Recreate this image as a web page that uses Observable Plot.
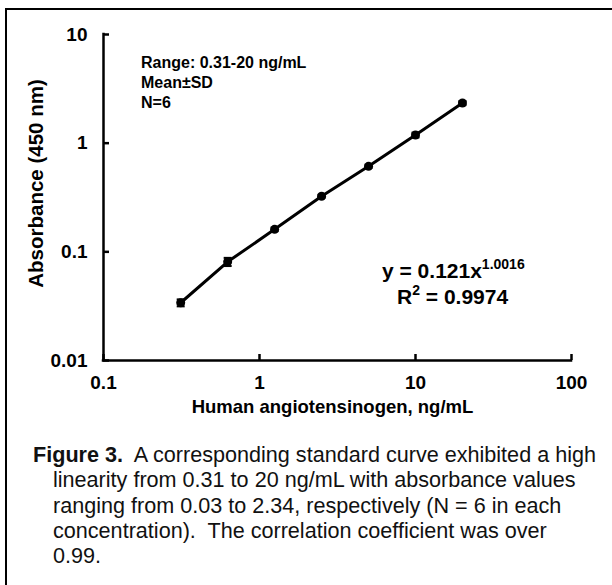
<!DOCTYPE html>
<html>
<head>
<meta charset="utf-8">
<script src="https://cdn.jsdelivr.net/npm/d3@7"></script>
<script src="https://cdn.jsdelivr.net/npm/@observablehq/plot@0.6"></script>
<style>
  html, body { margin: 0; padding: 0; background: #fff; }
  body { width: 612px; height: 585px; position: relative; overflow: hidden; font-family: Arial, "Liberation Sans", Helvetica, sans-serif; }
  #frame { position: absolute; left: 5px; top: 8px; width: 640px; height: 640px; border-left: 2px solid #000; border-top: 2px solid #000; box-sizing: border-box; }
  #chart { position: absolute; left: 0; top: 0; }
  .note { position: absolute; font-weight: bold; color: #000; white-space: nowrap; }
  .note sup { line-height: 0; vertical-align: 9px; }
  #caption { position: absolute; left: 33px; top: 442px; width: 578px; font-size: 21.6px; line-height: 25.3px; color: #111; }
  #caption .line { white-space: nowrap; }
  #caption .indent { padding-left: 20px; }
</style>
</head>
<body>
<div id="frame"></div>
<div id="chart"></div>
<div class="note" style="left:141px; top:53px; font-size:16px; line-height:20px;">Range: 0.31-20 ng/mL<br>Mean±SD<br>N=6</div>
<div class="note" style="left:382px; top:258px; font-size:21px; line-height:26px;">y = 0.121x<sup style="font-size:14px;">1.0016</sup></div>
<div class="note" style="left:397px; top:284px; font-size:21px; line-height:26px;">R<sup style="font-size:14px;">2</sup> = 0.9974</div>
<div id="caption">
  <div class="line"><b>Figure 3.</b>&nbsp; A corresponding standard curve exhibited a high</div>
  <div class="line indent">linearity from 0.31 to 20 ng/mL with absorbance values</div>
  <div class="line indent">ranging from 0.03 to 2.34, respectively (N = 6 in each</div>
  <div class="line indent">concentration).&nbsp; The correlation coefficient was over</div>
  <div class="line indent">0.99.</div>
</div>
<script>
// Concentrations (ng/mL)
const conc = [0.3125, 0.625, 1.25, 2.5, 5, 10, 20];
// Mean absorbance at 450 nm
const absMean = [0.034, 0.081, 0.161, 0.325, 0.612, 1.19, 2.34];
// Standard deviation
const absSD = [0.0025, 0.007, 0.006, 0.01, 0.02, 0.06, 0.10];
// Tick values
const xTicks = [0.1, 1, 10, 100];
const yTicks = [0.01, 0.1, 1, 10];

const data = conc.map((c, i) => ({x: c, y: absMean[i], lo: absMean[i] - absSD[i], hi: absMean[i] + absSD[i]}));

const cap = {
  draw(context, size) {
    const w = Math.sqrt(size / Math.PI);
    context.moveTo(-w, 0);
    context.lineTo(w, 0);
  }
};

const fmt = d => String(d);

const chart = Plot.plot({
  width: 612,
  height: 430,
  marginLeft: 103,
  marginRight: 41,
  marginTop: 34,
  marginBottom: 70,
  style: {fontFamily: "Arial, 'Liberation Sans', sans-serif", color: "#000", background: "transparent", overflow: "visible"},
  x: {type: "log", domain: [0.1, 100]},
  y: {type: "log", domain: [0.01, 10]},
  marks: [
    // axis lines
    Plot.ruleY([0.01], {stroke: "#000", strokeWidth: 2.5, strokeLinecap: "square"}),
    Plot.ruleX([0.1], {stroke: "#000", strokeWidth: 2.5, strokeLinecap: "square"}),
    // inward ticks
    Plot.axisX({ticks: xTicks, tickSize: -6, text: null, label: null, strokeWidth: 2.5, stroke: "#000"}),
    Plot.axisY({ticks: yTicks, tickSize: -6, text: null, label: null, strokeWidth: 2.5, stroke: "#000"}),
    // tick labels
    Plot.axisX({ticks: xTicks, tickSize: 0, tickPadding: 15, tickFormat: fmt, fontSize: 19, fontWeight: "bold", label: null}),
    Plot.axisY({ticks: yTicks, tickSize: 0, tickPadding: 16, tickFormat: fmt, fontSize: 19, fontWeight: "bold", label: null}),
    // axis titles
    Plot.text(["Human angiotensinogen, ng/mL"], {frameAnchor: "bottom", dx: -5, dy: 52, fontSize: 18.5, fontWeight: "bold", fill: "#000"}),
    Plot.text(["Absorbance (450 nm)"], {frameAnchor: "left", textAnchor: "middle", dx: -67, dy: -14, rotate: -90, fontSize: 20.5, fontWeight: "bold", fill: "#000"}),
    // fitted curve through the points
    Plot.line(data, {x: "x", y: "y", stroke: "#000", strokeWidth: 3}),
    // error bars
    Plot.ruleX(data, {x: "x", y1: "lo", y2: "hi", stroke: "#000", strokeWidth: 2}),
    Plot.dot(data, {x: "x", y: "hi", symbol: cap, r: 4, stroke: "#000", strokeWidth: 2}),
    Plot.dot(data, {x: "x", y: "lo", symbol: cap, r: 4, stroke: "#000", strokeWidth: 2}),
    // markers
    Plot.dot(data, {x: "x", y: "y", r: 4.5, fill: "#000", stroke: "none"})
  ]
});
document.getElementById("chart").appendChild(chart);
</script>
</body>
</html>
